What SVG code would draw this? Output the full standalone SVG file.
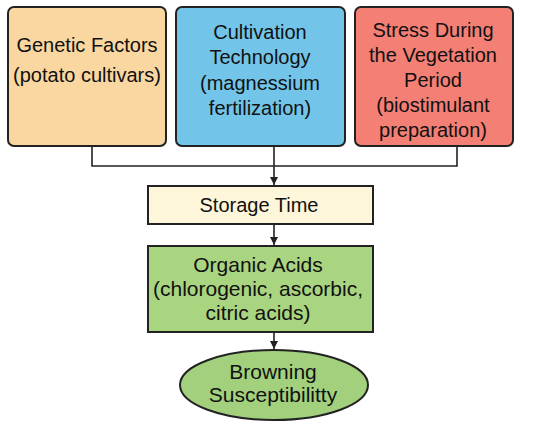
<svg xmlns="http://www.w3.org/2000/svg" width="550" height="429" viewBox="0 0 550 429">
<defs>
<style>
.box{stroke:#222;stroke-width:2}
.t{font-family:"Liberation Sans",Arial,sans-serif;font-size:20px;fill:#111;text-anchor:middle}
.b{font-size:21px}
.c{fill:none;stroke:#222;stroke-width:1.6}
</style>
<marker id="ah" viewBox="0 0 10 10" refX="10" refY="5" markerWidth="8" markerHeight="8" orient="auto" markerUnits="userSpaceOnUse"><path d="M0,0 L10,5 L0,10 z" fill="#222"/></marker>
</defs>
<rect width="550" height="429" fill="#fff"/>
<g id="connectors">
<path class="c" d="M92,146 V166 H457 V146"/>
<path class="c" d="M274,146 V185" marker-end="url(#ah)"/>
<path class="c" d="M274,224 V245" marker-end="url(#ah)"/>
<path class="c" d="M274,332 V349" marker-end="url(#ah)"/>
</g>
<g id="genetic">
<rect class="box" x="8" y="7" width="158" height="139" rx="6" fill="#FAD7A0"/>
<text class="t" x="87" y="52">Genetic Factors</text>
<text class="t" x="87" y="82">(potato cultivars)</text>
</g>
<g id="cultivation">
<rect class="box" x="176" y="7" width="169" height="139" rx="6" fill="#72C5E8"/>
<text class="t" x="260" y="39">Cultivation</text>
<text class="t" x="260" y="64">Technology</text>
<text class="t" x="260" y="90">(magnessium</text>
<text class="t" x="260" y="115">fertilization)</text>
</g>
<g id="stress">
<rect class="box" x="355" y="7" width="158" height="139" rx="6" fill="#F47F74"/>
<text class="t" x="433" y="37">Stress During</text>
<text class="t" x="433" y="62">the Vegetation</text>
<text class="t" x="433" y="87">Period</text>
<text class="t" x="433" y="112">(biostimulant</text>
<text class="t" x="433" y="137">preparation)</text>
</g>
<g id="storage">
<rect class="box" x="148" y="186" width="225" height="38" fill="#FDF6DA"/>
<text class="t" x="259" y="212">Storage Time</text>
</g>
<g id="acids">
<rect class="box" x="148" y="246" width="225" height="86" fill="#A9D480"/>
<text class="t b" x="258" y="272">Organic Acids</text>
<text class="t b" x="258" y="296">(chlorogenic, ascorbic,</text>
<text class="t b" x="258" y="320">citric acids)</text>
</g>
<g id="browning">
<ellipse class="box" cx="274" cy="385" rx="94" ry="35" fill="#A2D07C"/>
<text class="t b" x="273" y="379">Browning</text>
<text class="t b" x="273" y="402">Susceptibilitty</text>
</g>
</svg>
